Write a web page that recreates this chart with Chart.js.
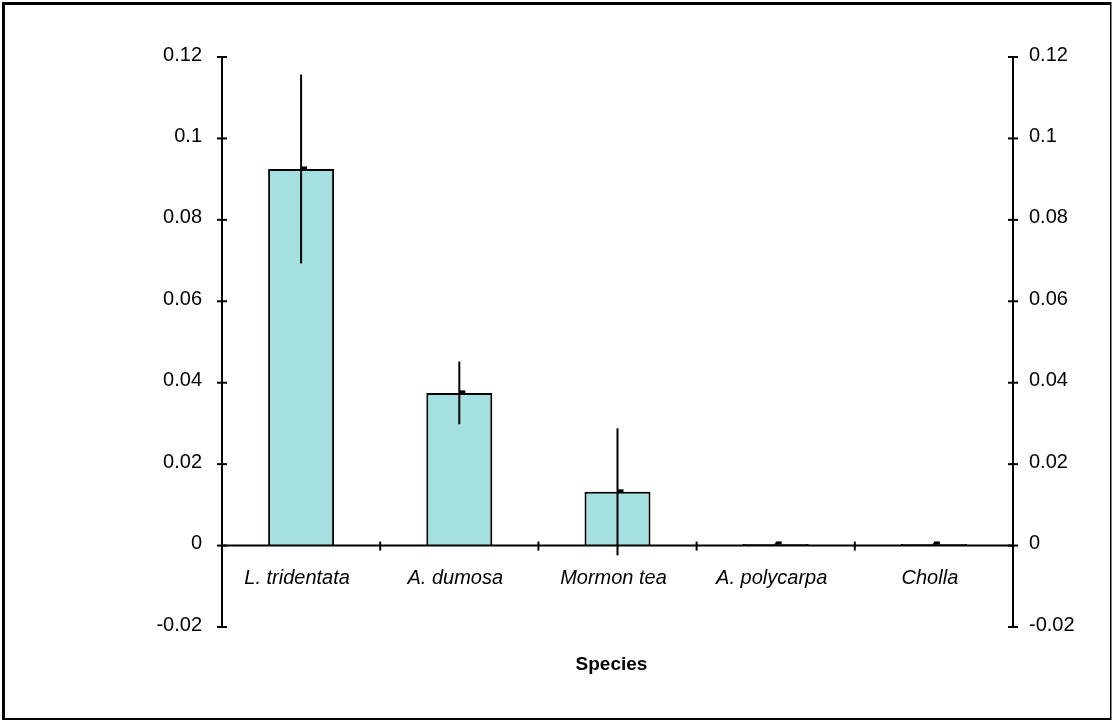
<!DOCTYPE html>
<html>
<head>
<meta charset="utf-8">
<script src="https://cdn.jsdelivr.net/npm/chart.js@4"></script>
<style>
  html, body { margin: 0; padding: 0; background: #fff; }
</style>
</head>
<body>
<canvas id="species-chart" width="1112" height="721"></canvas>
<script>
// chart data
var species = ['L. tridentata', 'A. dumosa', 'Mormon tea', 'A. polycarpa', 'Cholla'];
var means = [0.0925, 0.0375, 0.0132, 0.0004, 0.0004];
var errors = [0.0232, 0.0077, 0.0156, 0.0002, 0.0002];
var yTicks = [-0.02, 0, 0.02, 0.04, 0.06, 0.08, 0.1, 0.12];
var yTickLabels = ['-0.02', '0', '0.02', '0.04', '0.06', '0.08', '0.1', '0.12'];
var axisTitle = 'Species';

var fontFamily = "'Liberation Sans', Arial, sans-serif";

function tickLabel(value) {
  for (var i = 0; i < yTicks.length; i++) {
    if (Math.abs(yTicks[i] - value) < 1e-9) return yTickLabels[i];
  }
  return '';
}

//  frame, axes with crossing ticks, error bars, axis title
var extras = {
  id: 'extras',
  afterDatasetsDraw: function(chart) {
    var ctx = chart.ctx;
    var y = chart.scales.y;
    var area = chart.chartArea;
    var meta = chart.getDatasetMeta(0);
    var y0 = y.getPixelForValue(0);
    var yTop = y.getPixelForValue(yTicks[yTicks.length - 1]);
    var yBot = y.getPixelForValue(yTicks[0]);

    ctx.save();
    ctx.strokeStyle = '#000';
    ctx.fillStyle = '#000';
    ctx.lineWidth = 2;
    ctx.lineCap = 'butt';

    // error bars
    meta.data.forEach(function(bar, i) {
      var hi = y.getPixelForValue(means[i] + errors[i]);
      var lo = y.getPixelForValue(means[i] - errors[i]);
      ctx.beginPath();
      ctx.moveTo(bar.x, hi);
      ctx.lineTo(bar.x, lo);
      ctx.stroke();
      ctx.fillRect(bar.x, bar.y - 2.5, 6, 3);
    });

    // x axis at zero
    ctx.beginPath();
    ctx.moveTo(area.left, y0);
    ctx.lineTo(area.right, y0);
    ctx.stroke();
    for (var i = 1; i < species.length; i++) {
      var bx = (meta.data[i - 1].x + meta.data[i].x) / 2;
      ctx.beginPath();
      ctx.moveTo(bx, y0 - 4);
      ctx.lineTo(bx, y0 + 5);
      ctx.stroke();
    }

    // left and right value axes
    [area.left, area.right].forEach(function(ax) {
      ctx.beginPath();
      ctx.moveTo(ax, yTop);
      ctx.lineTo(ax, yBot);
      ctx.stroke();
      yTicks.forEach(function(t) {
        var ty = y.getPixelForValue(t);
        ctx.beginPath();
        ctx.moveTo(ax - 5, ty);
        ctx.lineTo(ax + 5, ty);
        ctx.stroke();
      });
    });

    // axis title
    ctx.font = 'bold 19px ' + fontFamily;
    ctx.textAlign = 'center';
    ctx.textBaseline = 'middle';
    ctx.fillText(axisTitle, (area.left + area.right) / 2 - 6, area.bottom + 38);

    // outer frame
    ctx.fillRect(2, 2, chart.width - 3, 3);
    ctx.fillRect(2, 2, 3, chart.height - 3);
    ctx.fillRect(chart.width - 2, 2, 1.5, chart.height - 3);
    ctx.fillRect(2, chart.height - 3, chart.width - 3, 2);
    ctx.restore();
  }
};

(function() {
  var ctx = document.getElementById('species-chart');
  var speciesChart = new Chart(ctx, {
    type: 'bar',
    data: {
      labels: species,
      datasets: [
        {
          label: 'Mean',
          data: means,
          backgroundColor: '#a4e0e0',
          borderColor: '#000',
          borderWidth: 2,
          barPercentage: 0.417,
          categoryPercentage: 1
        }
      ]
    },
    options: {
      responsive: false,
      animation: false,
      layout: { padding: { top: 57, left: 0, right: 0, bottom: 94 } },
      plugins: {
        legend: { display: false },
        tooltip: { enabled: false }
      },
      scales: {
        x: {
          position: { y: 0 },
          grid: { display: false, drawTicks: false },
          border: { display: false },
          ticks: {
            padding: 21,
            labelOffset: -4,
            autoSkip: false,
            maxRotation: 0,
            color: '#000',
            font: { family: fontFamily, size: 20, style: 'italic' }
          }
        },
        y: {
          position: 'left',
          min: -0.02,
          max: 0.12,
          grid: { display: false, drawTicks: false },
          border: { display: false },
          afterFit: function(scale) { scale.width = 222; },
          ticks: {
            stepSize: 0.02,
            padding: 20,
            labelOffset: -2,
            color: '#000',
            font: { family: fontFamily, size: 20 },
            callback: tickLabel
          }
        },
        y2: {
          position: 'right',
          min: -0.02,
          max: 0.12,
          grid: { display: false, drawTicks: false },
          border: { display: false },
          afterFit: function(scale) { scale.width = 99; },
          ticks: {
            stepSize: 0.02,
            padding: 16,
            labelOffset: -2,
            color: '#000',
            font: { family: fontFamily, size: 20 },
            callback: tickLabel
          }
        }
      }
    },
    plugins: [extras]
  });
})();
</script>
</body>
</html>
